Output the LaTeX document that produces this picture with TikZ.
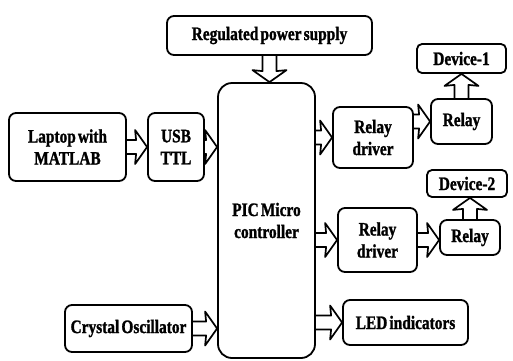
\documentclass[tikz,border=0pt]{standalone}
\usepackage{fontspec}
\setmainfont{Liberation Serif}[FakeStretch=0.81, WordSpace=0.55, BoldFeatures={FakeBold=1.3}]
\usetikzlibrary{calc}

\begin{document}
\begin{tikzpicture}[x=1pt, y=-1pt,
  font=\fontsize{19}{22}\selectfont\bfseries,
  block/.style={rectangle, draw, line width=1.8pt, rounded corners=7pt, align=center, inner sep=1pt},
  hollow/.style={line width=1.7pt, line join=round,
    to path={let \p1=(\tikztostart), \p2=(\tikztotarget),
      \n1={veclen(\x2-\x1,\y2-\y1)}, \n2={atan2(\y2-\y1,\x2-\x1)} in
      {[shift={(\p1)}, rotate=\n2]
       (0pt,7pt) -- (\n1-11pt,7pt) -- (\n1-12pt,17pt) -- (\n1,0pt)
       -- (\n1-12pt,-17pt) -- (\n1-11pt,-7pt) -- (0pt,-7pt)}}}
  ]
\useasboundingbox (0,0) rectangle (513,360);

% Blocks
\node[block, minimum width=205pt, minimum height=39pt] (power) at (269.5,35.5) {Regulated power supply};
\node[block, rounded corners=14pt, minimum width=97pt, minimum height=275pt] (pic) at (266.5,220.5) {PIC Micro\\controller};
\node[block, minimum width=117pt, minimum height=68pt] (laptop) at (67.5,147) {Laptop with\\MATLAB};
\node[block, minimum width=56pt, minimum height=68pt] (usb) at (176,147) {USB\\TTL};
\node[block, minimum width=127pt, minimum height=47pt] (crystal) at (128.5,328.5) {Crystal Oscillator};

% Output side
\node[block, minimum width=80pt, minimum height=61pt] (driverA) at (373,137.5) {Relay\\driver};
\node[block, minimum width=61pt, minimum height=45pt] (relayA) at (461.5,121.5) {Relay};
\node[block, rounded corners=5pt, minimum width=89pt, minimum height=29pt] (deviceA) at (461.5,58.5) {Device-1};

\node[block, minimum width=79pt, minimum height=64pt] (driverB) at (377.5,240) {Relay\\driver};
\node[block, minimum width=60pt, minimum height=35pt] (relayB) at (470,237.5) {Relay};
\node[block, rounded corners=5pt, minimum width=80pt, minimum height=27pt] (deviceB) at (467,183.5) {Device-2};

\node[block, minimum width=125pt, minimum height=45pt] (led) at (405.5,322.5) {LED indicators};

% Connections
\draw[hollow] (power.south) to (power.south |- pic.north);
\draw[hollow] (laptop.east) to (usb.west);
\draw[hollow] (usb.east) to (usb.east -| pic.west);
\draw[hollow] (crystal.east) to (crystal.east -| pic.west);
\draw[hollow] (driverA.west -| pic.east) to (driverA.west);
\draw[hollow] (relayA.west -| driverA.east) to (relayA.west);
\draw[hollow] (relayA.north) to (deviceA.south);
\draw[hollow] (driverB.west -| pic.east) to (driverB.west);
\draw[hollow] (driverB.east) to (driverB.east -| relayB.west);
\draw[hollow] (relayB.north) to (relayB.north |- deviceB.south);
\draw[hollow] (led.west -| pic.east) to (led.west);

\end{tikzpicture}
\end{document}
